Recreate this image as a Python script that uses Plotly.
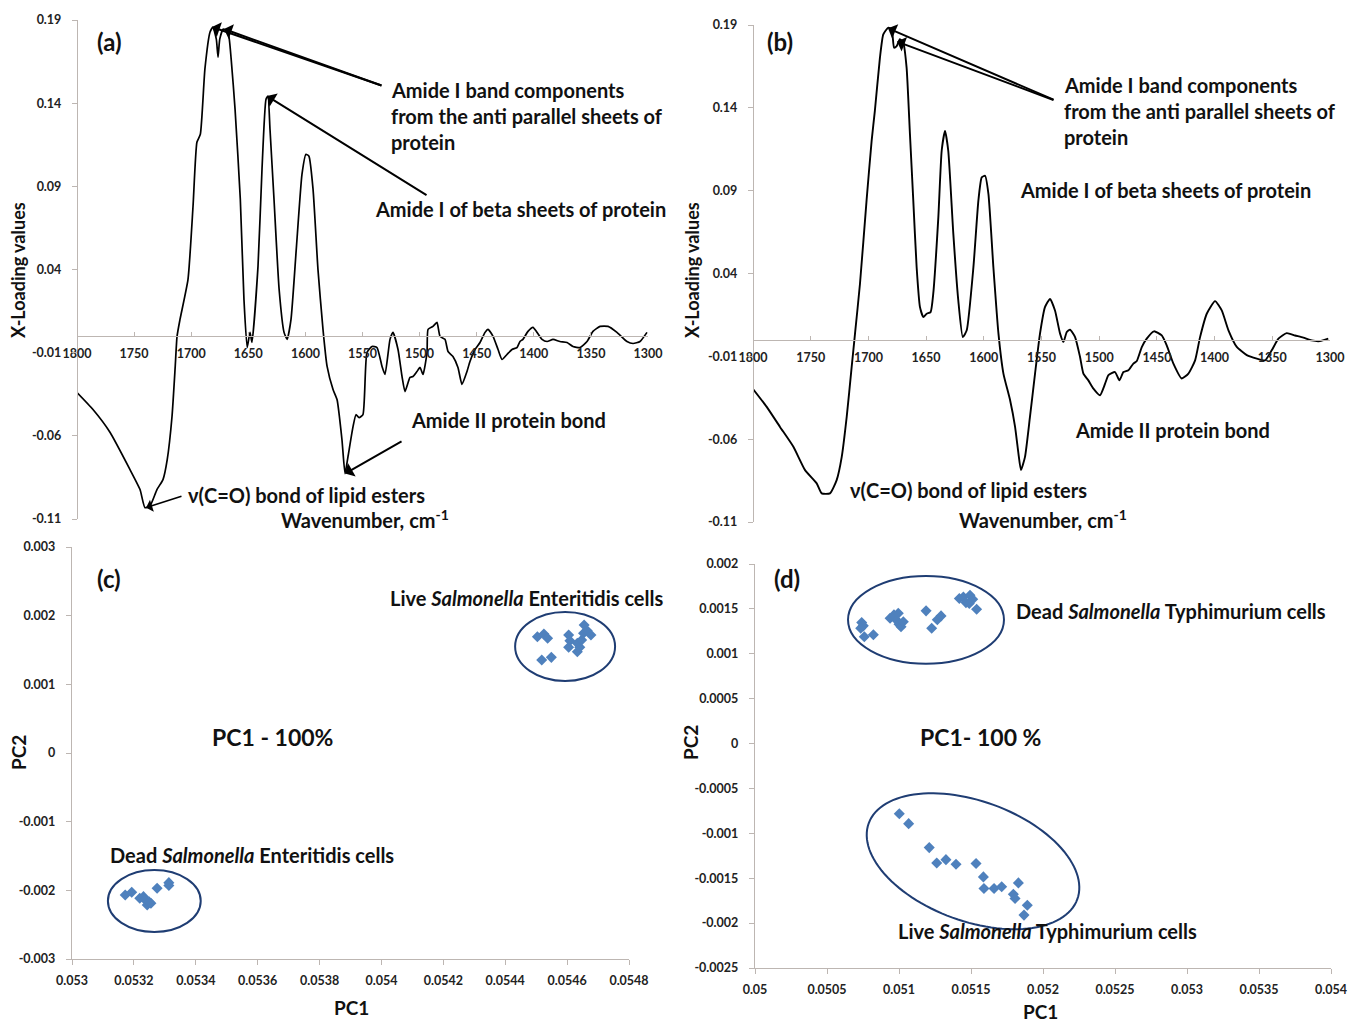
import numpy as np
import plotly.graph_objects as go

# figure fills the whole 1351 x 1023 page
FW, FH = 1351, 1023

# ---- X-loading spectra (wavenumber, loading) ----
wn_a = [1800, 1786, 1771, 1753.6, 1744.8, 1740.5, 1736, 1730, 1724.7, 1721, 1716.8, 1714, 1712.4,
        1709.8, 1702.8, 1698.4, 1695, 1692, 1688, 1683.5, 1681, 1678, 1676.5, 1675, 1672, 1667.8,
        1665, 1661.6, 1657, 1653.8, 1651, 1648.5, 1646.8, 1641.5, 1638, 1634.5, 1632.8, 1631,
        1627.5, 1623, 1618.7, 1616, 1612.6, 1608, 1603, 1599.5, 1596.9, 1593.3, 1589, 1584.6,
        1581, 1575.8, 1572.3, 1568, 1565.3, 1562.7, 1558.3, 1555.7, 1553, 1549.6, 1546.1, 1541.7,
        1537.3, 1532.9, 1530.3, 1525.9, 1523.3, 1518.9, 1515.4, 1512.8, 1508.4, 1505.8, 1502.3,
        1499.6, 1497, 1493.5, 1492.6, 1488.3, 1484.8, 1482.1, 1477.8, 1475.1, 1470.8, 1466.4,
        1462.9, 1458.5, 1455.9, 1451.5, 1447.1, 1442.7, 1440.1, 1435.7, 1431.3, 1427.8, 1423.5,
        1419.1, 1414.7, 1412.1, 1409.5, 1405.1, 1400.7, 1397.2, 1392.8, 1388.4, 1383.2, 1377.1,
        1370.9, 1365.7, 1359.5, 1353.4, 1348.2, 1342, 1335, 1327.2, 1318.4, 1313.1, 1307, 1300.9]
load_a = [-0.0340, -0.0442, -0.0580, -0.0803, -0.0923, -0.1032, -0.1020, -0.0923, -0.0863, -0.0743,
          -0.0484, -0.0184, -0.0002, 0.0100, 0.0341, 0.0780, 0.1165, 0.1213, 0.1605, 0.1828, 0.1858,
          0.1785, 0.1677, 0.1785, 0.1845, 0.1828, 0.1665, 0.1364, 0.0822, 0.0220, -0.0069, 0.0022,
          -0.0038, 0.0420, 0.1003, 0.1424, 0.1442, 0.1243, 0.0822, 0.0280, 0.0022, -0.0020, 0.0100,
          0.0521, 0.0972, 0.1093, 0.1081, 0.0882, 0.0401, 0.0040, -0.0183, -0.0322, -0.0382,
          -0.0622, -0.0827, -0.0725, -0.0545, -0.0473, -0.0491, -0.0472, -0.0099, -0.0063, -0.0069,
          -0.0183, -0.0231, -0.0020, 0.0022, -0.0081, -0.0243, -0.0334, -0.0249, -0.0243, -0.0213,
          -0.0189, -0.0231, -0.0099, 0.0040, 0.0058, 0.0082, -0.0002, -0.0020, -0.0093, -0.0123,
          -0.0189, -0.0291, -0.0213, -0.0153, -0.0081, -0.0039, 0.0022, 0.0040, -0.0002, -0.0081,
          -0.0141, -0.0111, -0.0081, -0.0069, -0.0033, -0.0020, 0.0028, 0.0052, 0.0022, -0.0020,
          -0.0033, -0.0020, -0.0033, -0.0039, -0.0063, -0.0069, -0.0033, 0.0028, 0.0058, 0.0058,
          0.0022, -0.0033, -0.0045, -0.0033, 0.0022]

wn_b = [1800, 1788.1, 1776.6, 1765, 1754.9, 1744.8, 1740.5, 1733.3, 1727.5, 1723.1, 1718.8, 1714.5,
        1711.6, 1707.3, 1701.6, 1697.2, 1694.4, 1690, 1687.1, 1682.8, 1679.8, 1677.8, 1675.5, 1672.7,
        1669.8, 1666.9, 1664, 1661.1, 1658.2, 1655.3, 1652.4, 1649.5, 1646.1, 1643.8, 1639.4, 1636.5,
        1633.6, 1630.8, 1626.4, 1622.1, 1618.2, 1614.8, 1609, 1604.7, 1601.8, 1598.9, 1596, 1591.7,
        1587.3, 1583, 1577.2, 1572.9, 1570, 1567.8, 1564.3, 1560, 1555.6, 1551.3, 1547, 1542.6,
        1538.3, 1533.9, 1531, 1528.1, 1525.3, 1520.9, 1516.6, 1513.7, 1509.4, 1505, 1499.3, 1494.9,
        1492, 1486.3, 1482.5, 1479, 1474.7, 1470.4, 1467.4, 1463.1, 1458.8, 1452.5, 1445.8, 1441.5,
        1435.7, 1428.5, 1422.7, 1416.9, 1412.6, 1406.8, 1399.6, 1393.8, 1388, 1380.8, 1372.1,
        1363.4, 1356.3, 1350.5, 1344.7, 1337.5, 1330.3, 1323.1, 1315.9, 1308.7, 1301.5]
load_b = [-0.0297, -0.0405, -0.0526, -0.0646, -0.0787, -0.0867, -0.0927, -0.0927, -0.0847, -0.0707,
          -0.0466, -0.0164, 0.0037, 0.0338, 0.0840, 0.1201, 0.1382, 0.1703, 0.1844, 0.1884, 0.1874,
          0.1763, 0.1773, 0.1814, 0.1794, 0.1643, 0.1242, 0.0840, 0.0438, 0.0197, 0.0137, 0.0157,
          0.0167, 0.0278, 0.0739, 0.1141, 0.1261, 0.1141, 0.0639, 0.0237, 0.0016, 0.0057, 0.0438,
          0.0840, 0.0980, 0.0990, 0.0880, 0.0438, 0.0037, -0.0204, -0.0365, -0.0526, -0.0686,
          -0.0787, -0.0707, -0.0466, -0.0204, 0.0037, 0.0197, 0.0247, 0.0177, 0.0037, -0.0013,
          0.0047, 0.0061, 0.0016, -0.0104, -0.0204, -0.0245, -0.0295, -0.0335, -0.0265, -0.0214,
          -0.0195, -0.0245, -0.0195, -0.0184, -0.0144, -0.0128, -0.0044, 0.0007, 0.0051, 0.0026,
          -0.0034, -0.0144, -0.0234, -0.0204, -0.0124, 0.0016, 0.0157, 0.0233, 0.0177, 0.0057,
          -0.0043, -0.0093, -0.0114, -0.0124, -0.0064, 0.0007, 0.0040, 0.0026, 0.0013, -0.0004,
          -0.0008, 0.0007]

# ---- PCA scores, S. Enteritidis (c) ----
dead_se_pc1 = [0.053172, 0.053193, 0.053219, 0.053231, 0.053237, 0.053243, 0.053249, 0.053255,
               0.053275, 0.053313, 0.053313]
dead_se_pc2 = [-0.002068, -0.002029, -0.002116, -0.002092, -0.002141, -0.002213, -0.002165,
               -0.002189, -0.001970, -0.001888, -0.001930]
live_se_pc1 = [0.054504, 0.054525, 0.054537, 0.054518, 0.054549, 0.054605, 0.054609, 0.054605,
               0.054633, 0.054633, 0.054641, 0.054647, 0.054653, 0.054655, 0.054665, 0.054677]
live_se_pc2 = [0.001694, 0.001733, 0.001670, 0.001354, 0.001393, 0.001718, 0.001636, 0.001539,
               0.001597, 0.001475, 0.001539, 0.001646, 0.001743, 0.001864, 0.001781, 0.001718]

# ---- PCA scores, S. Typhimurium (d) ----
dead_st_pc1 = [0.050741, 0.050752, 0.050734, 0.050759, 0.050822, 0.050938, 0.050965, 0.050984,
               0.051000, 0.051014, 0.051030, 0.050995, 0.051188, 0.051266, 0.051292, 0.051227,
               0.051419, 0.051447, 0.051465, 0.051493, 0.051512, 0.051488, 0.051539]
dead_st_pc2 = [0.001348, 0.001311, 0.001285, 0.001189, 0.001211, 0.001396, 0.001433, 0.001374,
               0.001330, 0.001300, 0.001356, 0.001452, 0.001478, 0.001378, 0.001422, 0.001285,
               0.001615, 0.001633, 0.001570, 0.001652, 0.001607, 0.001559, 0.001497]
live_st_pc1 = [0.051002, 0.051067, 0.051210, 0.051262, 0.051326, 0.051396, 0.051535, 0.051586,
               0.051590, 0.051660, 0.051713, 0.051829, 0.051794, 0.051806, 0.051891, 0.051868]
live_st_pc2 = [-0.000781, -0.000892, -0.001159, -0.001330, -0.001293, -0.001344, -0.001337,
               -0.001485, -0.001615, -0.001615, -0.001596, -0.001552, -0.001678, -0.001726,
               -0.001800, -0.001911]

# ---- tick labels ----
wn_ticks = [1800, 1750, 1700, 1650, 1600, 1550, 1500, 1450, 1400, 1350, 1300]
load_ticks = [-0.11, -0.06, -0.01, 0.04, 0.09, 0.14, 0.19]
load_ticktext = ["-0.11", "-0.06", "-0.01", "0.04", "0.09", "0.14", "0.19"]
c_xticks = [0.053, 0.0532, 0.0534, 0.0536, 0.0538, 0.054, 0.0542, 0.0544, 0.0546, 0.0548]
c_xtext = ["0.053", "0.0532", "0.0534", "0.0536", "0.0538", "0.054", "0.0542", "0.0544", "0.0546", "0.0548"]
c_yticks = [-0.003, -0.002, -0.001, 0, 0.001, 0.002, 0.003]
c_ytext = ["-0.003", "-0.002", "-0.001", "0", "0.001", "0.002", "0.003"]
d_xticks = [0.05, 0.0505, 0.051, 0.0515, 0.052, 0.0525, 0.053, 0.0535, 0.054]
d_xtext = ["0.05", "0.0505", "0.051", "0.0515", "0.052", "0.0525", "0.053", "0.0535", "0.054"]
d_yticks = [-0.0025, -0.002, -0.0015, -0.001, -0.0005, 0, 0.0005, 0.001, 0.0015, 0.002]
d_ytext = ["-0.0025", "-0.002", "-0.0015", "-0.001", "-0.0005", "0", "0.0005", "0.001", "0.0015", "0.002"]

FONT = "Lato"
AXIS_GREY = "#bdb6b2"
TICK_FONT = dict(family=FONT, size=12.5, color="#222", weight="bold")
BLUE = "#4f81bd"
NAVY = "#1f3d73"


def px(x):
    """pixel column -> paper fraction"""
    return x / FW


def py(y):
    """pixel row -> paper fraction"""
    return 1 - y / FH


fig = go.Figure()

# spectra
fig.add_trace(go.Scatter(x=wn_a, y=load_a, mode="lines", xaxis="x", yaxis="y",
                         line=dict(color="black", width=1.7, shape="spline", smoothing=0.5),
                         showlegend=False))
fig.add_trace(go.Scatter(x=wn_b, y=load_b, mode="lines", xaxis="x2", yaxis="y2",
                         line=dict(color="black", width=1.9, shape="spline", smoothing=0.5),
                         showlegend=False))

marker = dict(symbol="diamond", size=8.5, color=BLUE, line=dict(width=0))
for xs, ys, xa, ya in [(dead_se_pc1, dead_se_pc2, "x3", "y3"), (live_se_pc1, live_se_pc2, "x3", "y3"),
                       (dead_st_pc1, dead_st_pc2, "x4", "y4"), (live_st_pc1, live_st_pc2, "x4", "y4")]:
    fig.add_trace(go.Scatter(x=xs, y=ys, mode="markers", xaxis=xa, yaxis=ya,
                             marker=marker, showlegend=False))

# panel boxes in pixels, with axis ranges
dom = {
    "a": dict(x=(77, 648), y=(20, 519), xr=[1800, 1300], yr=[-0.11, 0.19]),
    "b": dict(x=(753, 1330), y=(25, 522), xr=[1800, 1300], yr=[-0.11, 0.19]),
    "c": dict(x=(72, 629), y=(547, 959), xr=[0.053, 0.0548], yr=[-0.003, 0.003]),
    "d": dict(x=(755, 1331), y=(564, 968), xr=[0.05, 0.054], yr=[-0.0025, 0.002]),
}


def ydomain(p):
    return [py(dom[p]["y"][1]), py(dom[p]["y"][0])]


def xdomain(p):
    return [px(dom[p]["x"][0]), px(dom[p]["x"][1])]


def zero_position(p):
    d0, d1 = ydomain(p)
    lo, hi = dom[p]["yr"]
    return d0 + (0 - lo) / (hi - lo) * (d1 - d0)


base_axis = dict(showgrid=False, zeroline=False, showline=True, linecolor=AXIS_GREY, linewidth=1.3,
                 tickfont=TICK_FONT, tickcolor=AXIS_GREY, ticklen=5, tickwidth=1.2,
                 automargin=False)

layout = dict(
    width=FW, height=FH, margin=dict(l=0, r=0, t=0, b=0, pad=0, autoexpand=False),
    paper_bgcolor="white", plot_bgcolor="white",
    font=dict(family=FONT, color="#111"),
)

# spectra axes: horizontal axis sits on the zero line
for i, p in [("", "a"), ("2", "b")]:
    layout["xaxis" + i] = dict(base_axis, domain=xdomain(p), range=dom[p]["xr"], anchor="free",
                               position=zero_position(p), tickmode="array", tickvals=wn_ticks,
                               ticktext=[str(t) for t in wn_ticks], ticks="inside", ticklen=4,
                               ticklabelstandoff=6)
    layout["yaxis" + i] = dict(base_axis, domain=ydomain(p), range=dom[p]["yr"], anchor="free",
                               position=px(dom[p]["x"][0]), tickmode="array", tickvals=load_ticks,
                               ticktext=load_ticktext, ticks="outside", ticklabelstandoff=8)

layout["xaxis3"] = dict(base_axis, domain=xdomain("c"), range=dom["c"]["xr"], anchor="y3",
                        tickmode="array", tickvals=c_xticks, ticktext=c_xtext, ticks="outside",
                        ticklabelstandoff=5)
layout["yaxis3"] = dict(base_axis, domain=ydomain("c"), range=dom["c"]["yr"], anchor="x3",
                        tickmode="array", tickvals=c_yticks, ticktext=c_ytext, ticks="outside",
                        ticklabelstandoff=8)
layout["xaxis4"] = dict(base_axis, domain=xdomain("d"), range=dom["d"]["xr"], anchor="y4",
                        tickmode="array", tickvals=d_xticks, ticktext=d_xtext, ticks="outside",
                        ticklabelstandoff=5)
layout["yaxis4"] = dict(base_axis, domain=ydomain("d"), range=dom["d"]["yr"], anchor="x4",
                        tickmode="array", tickvals=d_yticks, ticktext=d_ytext, ticks="outside",
                        ticklabelstandoff=8)

fig.update_layout(**layout)

# ---- text labels ----
LBL = dict(family=FONT, size=20, color="#111", weight="bold")


def text(s, x, y, anchor="left", size=20, angle=0):
    fig.add_annotation(text=s, x=px(x), y=py(y), xref="paper", yref="paper", showarrow=False,
                       xanchor=anchor, yanchor="middle", textangle=angle,
                       font=dict(LBL, size=size))


# panel (a)
text("(a)", 95, 42, size=24)
text("Amide I band components", 389, 90)
text("from the anti parallel sheets of", 389, 116)
text("protein", 389, 142)
text("Amide I of beta sheets of protein", 373, 209)
text("Amide II protein bond", 409, 420)
text("ν(C=O) bond of lipid esters", 186, 495)
text("Wavenumber, cm<sup>-1</sup>", 279, 519)
text("X-Loading values", 18, 270, anchor="center", size=18, angle=-90)

# panel (b)
text("(b)", 765, 42, size=24)
text("Amide I band components", 1062, 85)
text("from the anti parallel sheets of", 1062, 111)
text("protein", 1062, 137)
text("Amide I of beta sheets of protein", 1018, 190)
text("Amide II protein bond", 1073, 430)
text("ν(C=O) bond of lipid esters", 848, 490)
text("Wavenumber, cm<sup>-1</sup>", 957, 519)
text("X-Loading values", 692, 270, anchor="center", size=18, angle=-90)

# panel (c)
text("(c)", 95, 578, size=24)
text("Live <i>Salmonella</i> Enteritidis cells", 388, 598)
text("PC1 - 100%", 210, 737, size=23)
text("Dead <i>Salmonella</i> Enteritidis cells", 108, 855)
text("PC1", 352, 1007, anchor="center", size=19)
text("PC2", 18, 753, anchor="center", size=19, angle=-90)

# panel (d)
text("(d)", 772, 578, size=24)
text("Dead <i>Salmonella</i> Typhimurium cells", 1014, 611)
text("PC1- 100 %", 918, 737, size=23)
text("Live <i>Salmonella</i> Typhimurium cells", 896, 931)
text("PC1", 1040, 1011, anchor="center", size=19)
text("PC2", 690, 743, anchor="center", size=19, angle=-90)


# ---- arrows (head on the curve, tail offset in pixels) ----
def arrow(xa, ya, hx, hy, ax, ay, width=2.0):
    fig.add_annotation(x=hx, y=hy, xref=xa, yref=ya, ax=ax, ay=ay, axref="pixel", ayref="pixel",
                       text="", showarrow=True, arrowhead=1, arrowsize=1.3, arrowwidth=width,
                       arrowcolor="black")


arrow("x", "y", 1681.8, 0.1858, 171, 59)
arrow("x", "y", 1671.3, 0.1846, 159, 57)
arrow("x", "y", 1633.6, 0.1443, 161, 100)
arrow("x", "y", 1565.3, -0.0827, 58, -33)
arrow("x", "y", 1739.6, -0.1032, 37, -12, width=1.6)
arrow("x2", "y2", 1683.0, 0.188, 167, 72)
arrow("x2", "y2", 1675.2, 0.180, 158, 59)

# ---- cluster outlines ----
fig.add_shape(type="circle", xref="x3", yref="y3", x0=0.053116, x1=0.053416, y0=-0.002607, y1=-0.001704,
              line=dict(color=NAVY, width=2))
fig.add_shape(type="circle", xref="x3", yref="y3", x0=0.054432, x1=0.054755, y0=0.001048, y1=0.002053,
              line=dict(color=NAVY, width=2))
fig.add_shape(type="circle", xref="x4", yref="y4", x0=0.050646, x1=0.051729, y0=0.000889, y1=0.001867,
              line=dict(color=NAVY, width=2))

# tilted outline around the live Typhimurium cluster
cx, cy = 0.051514, -0.001311
sx = (dom["d"]["x"][1] - dom["d"]["x"][0]) / (dom["d"]["xr"][1] - dom["d"]["xr"][0])
sy = (dom["d"]["y"][1] - dom["d"]["y"][0]) / (dom["d"]["yr"][1] - dom["d"]["yr"][0])
a_px, b_px, theta = 111, 60, np.radians(20)
t = np.linspace(0, 2 * np.pi, 121)
ex = a_px * np.cos(t) * np.cos(theta) - b_px * np.sin(t) * np.sin(theta)
ey = a_px * np.cos(t) * np.sin(theta) + b_px * np.sin(t) * np.cos(theta)
path = "M " + " L ".join(f"{cx + u / sx:.7f},{cy - v / sy:.7f}" for u, v in zip(ex, ey)) + " Z"
fig.add_shape(type="path", xref="x4", yref="y4", path=path, line=dict(color=NAVY, width=2))

fig.write_html("out.html")
